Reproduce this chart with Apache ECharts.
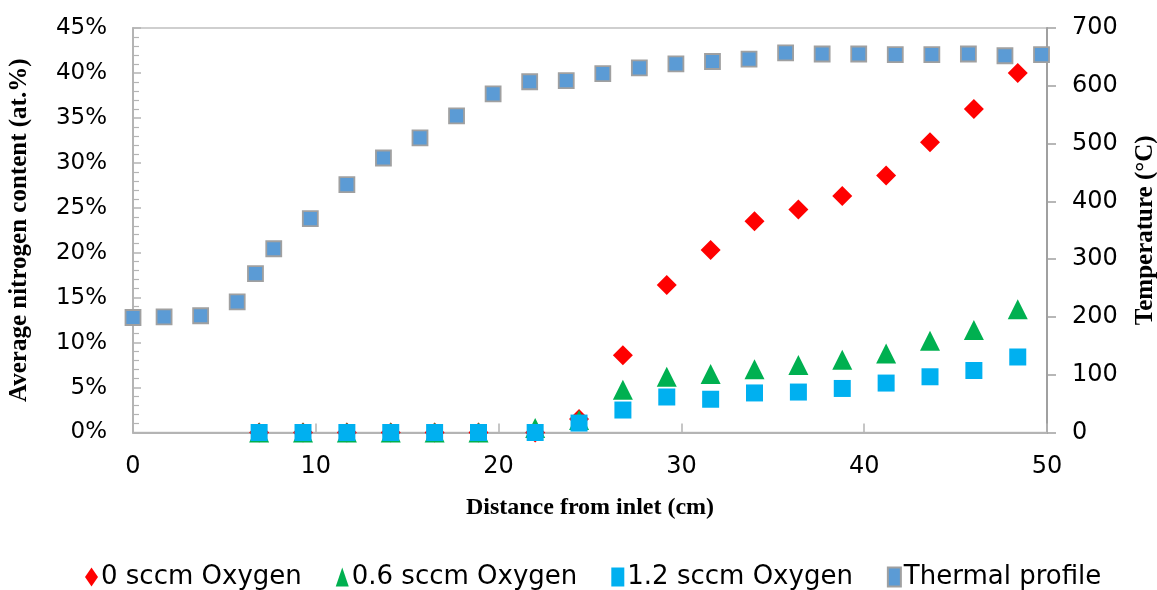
<!DOCTYPE html>
<html>
<head>
<meta charset="utf-8">
<script src="https://cdn.jsdelivr.net/npm/echarts@6/dist/echarts.min.js"></script>
<style>
  html, body { margin: 0; padding: 0; background: #fff; }
  #chart { width: 1157px; height: 590px; }
</style>
</head>
<body>
<div id="chart"></div>
<script>
// Sample positions along the tube (cm) for the nitrogen measurements
const sampleDistance = [6.9, 9.3, 11.7, 14.1, 16.5, 18.9, 22.0, 24.4, 26.8, 29.2, 31.6, 34.0, 36.4, 38.8, 41.2, 43.6, 46.0, 48.4];
// Average nitrogen content (at.%) for each oxygen flow
const nitrogen0sccm   = [0, 0, 0, 0, 0, 0, 0, 1.5, 8.6, 16.4, 20.3, 23.5, 24.8, 26.3, 28.6, 32.3, 36.0, 40.0];
const nitrogen06sccm  = [0, 0, 0, 0, 0, 0, 0.5, 1.4, 4.75, 6.2, 6.5, 7.05, 7.5, 8.1, 8.8, 10.2, 11.4, 13.7];
const nitrogen12sccm  = [0, 0, 0, 0, 0, 0, 0, 1.05, 2.5, 3.95, 3.7, 4.4, 4.5, 4.9, 5.5, 6.2, 6.9, 8.4];

// Furnace thermal profile: position (cm) and temperature (°C)
const thermalDistance = [0, 1.7, 3.7, 5.7, 6.7, 7.7, 9.7, 11.7, 13.7, 15.7, 17.7, 19.7, 21.7, 23.7, 25.7, 27.7, 29.7, 31.7, 33.7, 35.7, 37.7, 39.7, 41.7, 43.7, 45.7, 47.7, 49.7];
const thermalTemp     = [199, 200, 202, 226, 275, 318, 370, 429, 475, 510, 548, 586, 607, 609, 621, 631, 638, 642, 646, 657, 655, 655, 654, 654, 655, 652, 654];

const seriesNames = ['0 sccm Oxygen', '0.6 sccm Oxygen', '1.2 sccm Oxygen', 'Thermal profile'];

const pairs = (xs, ys) => xs.map((x, i) => [x, ys[i]]);

const sansFont = 'DejaVu Sans';
const serifFont = 'Liberation Serif';
const axisGray = '#B4B4B4';

const chart = echarts.init(document.getElementById('chart'), null, { renderer: 'canvas' });

chart.setOption({
  animation: false,
  backgroundColor: '#ffffff',
  grid: {
    left: 133, right: 110, top: 28, bottom: 157.5,
    outerBoundsMode: 'none', containLabel: false,
    show: true, borderColor: '#C0C0C0', borderWidth: 1.5, backgroundColor: 'transparent'
  },
  legend: {
    data: [
      { name: seriesNames[0], icon: 'diamond' },
      { name: seriesNames[1], icon: 'triangle' },
      { name: seriesNames[2], icon: 'rect' },
      { name: seriesNames[3], icon: 'rect' }
    ],
    left: 80, top: 559,
    itemWidth: 13, itemHeight: 19, itemGap: 34,
    symbolKeepAspect: false,
    textStyle: { fontFamily: sansFont, fontSize: 26, color: '#000', padding: [0, 0, 0, -2] }
  },
  xAxis: {
    type: 'value', min: 0, max: 50, interval: 10,
    name: 'Distance from inlet (cm)', nameLocation: 'middle', nameGap: 63,
    nameTextStyle: { fontFamily: serifFont, fontWeight: 'bold', fontSize: 24, color: '#000' },
    axisLine: { show: true, onZero: false, lineStyle: { color: axisGray, width: 2 } },
    axisTick: { show: true, inside: true, length: 9, lineStyle: { color: axisGray, width: 1.5 } },
    axisLabel: { fontFamily: sansFont, fontSize: 24, color: '#000', margin: 22 },
    splitLine: { show: false }
  },
  yAxis: [
    {
      type: 'value', min: 0, max: 45, interval: 5, position: 'left',
      name: 'Average nitrogen content (at.%)', nameLocation: 'middle', nameRotate: 90, nameGap: 101,
      nameTextStyle: { fontFamily: serifFont, fontWeight: 'bold', fontSize: 25, color: '#000' },
      axisLine: { show: true, lineStyle: { color: axisGray, width: 2 } },
      axisTick: { show: true, inside: true, length: 8, lineStyle: { color: axisGray, width: 1.5 } },
      minorTick: { show: true, splitNumber: 5, length: 6, lineStyle: { color: axisGray, width: 1.2 } },
      axisLabel: { fontFamily: sansFont, fontSize: 23, color: '#000', margin: 26, formatter: '{value}%' },
      splitLine: { show: false }
    },
    {
      type: 'value', min: 0, max: 700, interval: 100, position: 'right',
      name: 'Temperature (°C)', nameLocation: 'middle', nameRotate: 90, nameGap: 86,
      nameTextStyle: { fontFamily: serifFont, fontWeight: 'bold', fontSize: 25, color: '#000' },
      axisLine: { show: true, lineStyle: { color: '#A0A0A0', width: 2 } },
      axisTick: { show: true, inside: false, length: 9, lineStyle: { color: '#A0A0A0', width: 1.5 } },
      axisLabel: { fontFamily: sansFont, fontSize: 24, color: '#000', margin: 25 },
      splitLine: { show: false }
    }
  ],
  series: [
    {
      name: seriesNames[0], type: 'scatter', yAxisIndex: 0,
      symbol: 'diamond', symbolSize: [20, 20],
      itemStyle: { color: '#FF0000', opacity: 1 },
      data: pairs(sampleDistance, nitrogen0sccm)
    },
    {
      name: seriesNames[1], type: 'scatter', yAxisIndex: 0,
      symbol: 'triangle', symbolSize: [20, 20],
      itemStyle: { color: '#00B050', opacity: 1 },
      data: pairs(sampleDistance, nitrogen06sccm)
    },
    {
      name: seriesNames[2], type: 'scatter', yAxisIndex: 0,
      symbol: 'rect', symbolSize: [17, 17],
      itemStyle: { color: '#00B0F0', opacity: 1 },
      data: pairs(sampleDistance, nitrogen12sccm)
    },
    {
      name: seriesNames[3], type: 'scatter', yAxisIndex: 1,
      symbol: 'rect', symbolSize: [15, 15],
      itemStyle: { color: '#5B9BD5', borderColor: '#A0A0A0', borderWidth: 1.8, opacity: 1 },
      data: pairs(thermalDistance, thermalTemp)
    }
  ]
});
</script>
</body>
</html>
